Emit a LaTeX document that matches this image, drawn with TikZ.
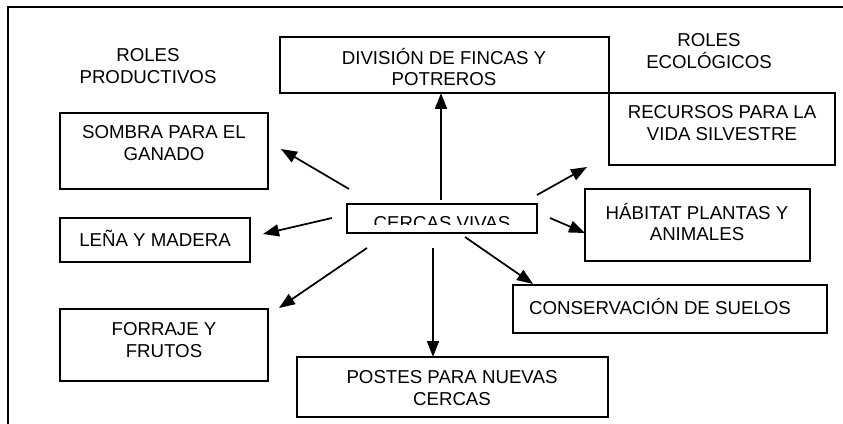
\documentclass[tikz,border=0pt]{standalone}
\usepackage{fontspec}
\setmainfont{Liberation Sans}
\usetikzlibrary{arrows.meta,fit}
\begin{document}
\begin{tikzpicture}[x=0.75pt,y=-0.75pt,
  caja/.style={draw, line width=1.5pt, inner sep=0pt},
  texto/.style={align=center, inner sep=0pt, font=\fontsize{14}{16}\selectfont},
  flecha/.style={line width=1.3pt, -{Triangle[length=12pt,width=9pt]}}]
\useasboundingbox (0,0) rectangle (843,424);
\draw[line width=1.5pt] (843,7) -- (8,7) -- (8,424);
\node[texto] (prod) at (148,66) {ROLES\\PRODUCTIVOS};
\node[texto] (eco) at (709,51) {ROLES\\ECOLÓGICOS};
\node[caja, fit={(280,37) (609,93)}] (div) {};
\node[texto] (divt) at (444,67) {DIVISIÓN DE FINCAS Y\\POTREROS};
\node[caja, fit={(609,93) (835,165)}] (rec) {};
\node[texto] (rect) at (722,123) {RECURSOS PARA LA\\VIDA SILVESTRE};
\node[caja, fit={(60,113) (268,189)}] (som) {};
\node[texto] (somt) at (164,143) {SOMBRA PARA EL\\GANADO};
\node[caja, fit={(60,218) (250,262)}] (len) {};
\node[texto] (lent) at (155,238) {LEÑA Y MADERA};
\node[caja, fit={(585,189) (810,261)}] (hab) {};
\node[texto] (habt) at (697,222) {HÁBITAT PLANTAS Y\\ANIMALES};
\node[caja, fit={(513,285) (827,333)}] (con) {};
\node[texto] (cont) at (660,306) {CONSERVACIÓN DE SUELOS};
\node[caja, fit={(60,309) (268,381)}] (for) {};
\node[texto] (fort) at (164,340) {FORRAJE Y\\FRUTOS};
\node[caja, fit={(297,357) (608,417)}] (pos) {};
\node[texto] (post) at (452,388) {POSTES PARA NUEVAS\\CERCAS};
\node[caja, fit={(347,204) (537,233)}] (cv) {};
\begin{scope}
\clip (348,205) rectangle (536,225);
\node[texto, anchor=base] (cvt) at (442,229.5) {CERCAS VIVAS};
\end{scope}
\coordinate (a1) at (349,189); \coordinate (b1) at (281,149);
\coordinate (a2) at (332,218); \coordinate (b2) at (263,234);
\coordinate (a3) at (367,248); \coordinate (b3) at (279,308);
\coordinate (a4) at (433,248); \coordinate (b4) at (433,357);
\coordinate (a5) at (465,237); \coordinate (b5) at (533,284);
\coordinate (a6) at (550,218); \coordinate (b6) at (585,233);
\coordinate (a7) at (537,195); \coordinate (b7) at (587,167);
\coordinate (a8) at (441,200); \coordinate (b8) at (441,93);
\draw[flecha] (a1) -- (b1);
\draw[flecha] (a2) -- (b2);
\draw[flecha] (a3) -- (b3);
\draw[flecha] (a4) -- (b4);
\draw[flecha] (a5) -- (b5);
\draw[flecha] (a6) -- (b6);
\draw[flecha] (a7) -- (b7);
\draw[flecha] (a8) -- (b8);
\end{tikzpicture}
\end{document}
